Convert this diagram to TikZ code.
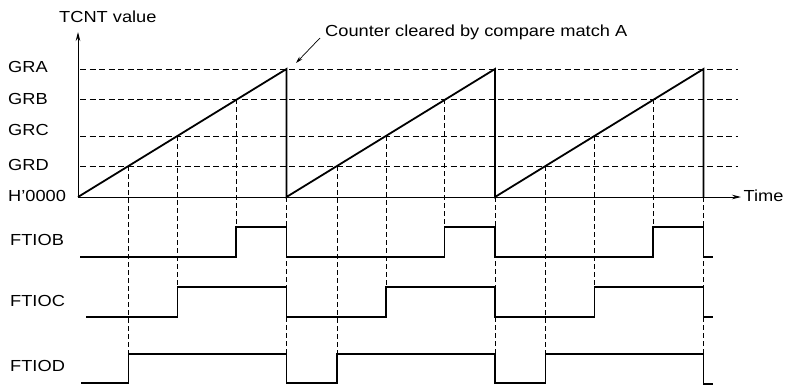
\documentclass[tikz,border=0pt]{standalone}
\usepackage{fontspec}
\setmainfont{Liberation Sans}[FakeStretch=1.14]
\usetikzlibrary{arrows.meta}
\begin{document}
\begin{tikzpicture}[x=1pt,y=-1pt,
  lbl/.style={font=\fontsize{16}{18}\selectfont, inner sep=0pt, anchor=base west},
  hgrid/.style={dash pattern=on 6pt off 3.5pt, line width=0.75pt},
  vgrid/.style={dash pattern=on 5pt off 3pt, line width=0.75pt},
  ramp/.style={line width=1.8pt, line join=miter},
  sig/.style={line width=1.7pt, line join=miter},
  axis/.style={line width=0.9pt, -{Stealth[length=9pt,width=4.5pt]}}
]
\useasboundingbox (0,0) rectangle (785,386);

% horizontal dashed levels
\foreach \yy in {69,99,136,166}
  \draw[hgrid] (80,\yy) -- (738,\yy);

% vertical dashed lines
\foreach \xx in {128.5,337,545.5} \draw[vgrid] (\xx,166) -- (\xx,354);
\foreach \xx in {177.5,386,594.5} \draw[vgrid] (\xx,136) -- (\xx,287);
\foreach \xx in {236,444.5,653} \draw[vgrid] (\xx,99) -- (\xx,227);
\foreach \xx in {286.5,495,703.5} \draw[vgrid] (\xx,197) -- (\xx,354);

% axes
\coordinate (org) at (78,197);
\coordinate (ytip) at (78,32);
\coordinate (xtip) at (741,197);
\draw[axis] (org) -- (ytip);
\draw[axis] (org) -- (xtip);

% sawtooth
\draw[ramp] (78,197) -- (286.5,69) -- (286.5,197) -- (495,69) -- (495,197) -- (703.5,69) -- (703.5,197);

% FTIOB
\draw[sig] (80,257) -- (236,257) -- (236,227) -- (286.5,227) -- (286.5,257) -- (444.5,257) -- (444.5,227) -- (495,227) -- (495,257) -- (653,257) -- (653,227) -- (703.5,227) -- (703.5,257) -- (713,257);
% FTIOC
\draw[sig] (86,317) -- (177.5,317) -- (177.5,287) -- (286.5,287) -- (286.5,317) -- (386,317) -- (386,287) -- (495,287) -- (495,317) -- (594.5,317) -- (594.5,287) -- (703.5,287) -- (703.5,317) -- (713,317);
% FTIOD
\draw[sig] (81,383) -- (128.5,383) -- (128.5,354) -- (286.5,354) -- (286.5,383) -- (337,383) -- (337,354) -- (495,354) -- (495,383) -- (545.5,383) -- (545.5,354) -- (703.5,354) -- (703.5,384) -- (713,384);

% labels
\node[lbl] (tcnt) at (59,22.7) {TCNT value};
\node[lbl] (gra) at (8,72.7) {GRA};
\node[lbl] (grb) at (8,104) {GRB};
\node[lbl] (grc) at (8,135.3) {GRC};
\node[lbl] (grd) at (8,170) {GRD};
\node[lbl] (h0) at (8,201) {H'0000};
\node[lbl] (time) at (743.5,201.5) {Time};
\node[lbl] (ftiob) at (10,245.5) {FTIOB};
\node[lbl] (ftioc) at (10,306) {FTIOC};
\node[lbl] (ftiod) at (10,371.7) {FTIOD};
\node[lbl] (note) at (325,36.6) {Counter cleared by compare match A};

% annotation arrow
\coordinate (annA) at (320,38);
\coordinate (annB) at (296,63);
\draw[line width=0.7pt, -{Stealth[length=7pt,width=4pt]}] (annA) -- (annB);
\end{tikzpicture}
\end{document}
